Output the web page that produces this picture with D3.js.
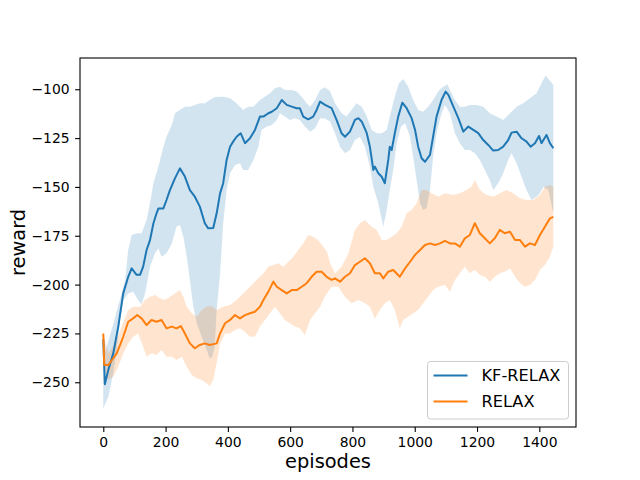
<!DOCTYPE html>
<html>
<head>
<meta charset="utf-8">
<script src="https://cdn.jsdelivr.net/npm/d3@7"></script>
<style>
  html, body { margin: 0; padding: 0; background: #fff; }
  svg { display: block; font-family: "DejaVu Sans", sans-serif; }
</style>
</head>
<body>
<svg width="640" height="480"></svg>
<script>
// KF-RELAX: mean reward and band, [episode, reward]
const kfMean = [[0,-228],[5,-251],[16,-243.7],[32,-235.2],[48,-221.5],[64,-204.5],[80,-196],[91,-191.7],[107,-195],[118,-195],[128,-190.8],[139,-182.3],[150,-177.2],[161,-168.6],[171,-163.5],[177,-161],[193,-161],[203,-156.7],[214,-151.6],[230,-145.6],[246,-140.5],[262,-144.7],[278,-151.6],[294,-155],[310,-160.1],[326,-168.6],[337,-171.2],[353,-171],[364,-163.5],[375,-153.3],[385,-148.1],[396,-136.2],[407,-129.4],[417,-126.8],[428,-124.3],[441,-122.5],[455,-127.6],[471,-125.1],[487,-120.8],[503,-114],[514,-114],[530,-112.3],[541,-111.5],[557,-109.7],[573,-105.5],[589,-108],[605,-108.9],[621,-109.7],[631,-109.7],[642,-114],[658,-115.4],[674,-114],[685,-110.6],[696,-106.3],[712,-108],[733,-109.7],[749,-115.7],[765,-122.5],[776,-124.3],[792,-121.7],[808,-115.7],[819,-114.8],[830,-116.6],[846,-122.5],[856,-129.4],[867,-141.3],[872,-139.6],[883,-143],[894,-144.8],[904,-148.1],[915,-136.2],[920,-129.4],[926,-131.1],[936,-122.5],[947,-114],[960,-106.9],[974,-109.7],[990,-114.8],[1001,-120.8],[1011,-129.4],[1022,-135.3],[1033,-137.1],[1049,-133.6],[1059,-124.3],[1070,-114],[1086,-105.5],[1099,-101.2],[1108,-102.9],[1124,-108.9],[1140,-114.8],[1156,-121.7],[1172,-119.1],[1188,-120.8],[1204,-122.5],[1220,-126],[1236,-128.5],[1252,-131.4],[1268,-131.1],[1284,-129.4],[1300,-126],[1311,-122.2],[1327,-121.7],[1343,-125.1],[1359,-126.8],[1372,-129.4],[1386,-127.6],[1399,-123.9],[1407,-127.6],[1423,-123.4],[1434,-127.6],[1445,-130.2]];
const kfHi = [[0,-226],[5,-235],[27,-223],[48,-211],[70,-197.6],[80,-182.3],[91,-174.6],[107,-173.7],[123,-173.7],[139,-166.9],[150,-158.4],[161,-148.1],[177,-139.6],[193,-129.4],[203,-124.3],[220,-118.3],[230,-112.3],[246,-110.6],[262,-108.9],[278,-108.9],[294,-108],[310,-107.2],[326,-107.2],[342,-105.5],[359,-104],[385,-103.8],[407,-104.6],[428,-107.2],[449,-110.6],[465,-108.9],[482,-108.9],[503,-105.5],[519,-103.8],[535,-102],[551,-99.5],[567,-98.7],[583,-100.4],[605,-100.4],[621,-101.2],[637,-103.8],[653,-107.2],[664,-108.9],[680,-105.5],[696,-100.4],[712,-99],[728,-101],[744,-107.2],[765,-112.3],[781,-114],[797,-110.6],[813,-107.2],[830,-108.9],[846,-114],[862,-120.8],[878,-122.5],[894,-122.5],[910,-120.8],[920,-114],[936,-103.8],[949,-96.9],[963,-94.8],[979,-98.7],[995,-105.5],[1011,-110.6],[1027,-111.5],[1043,-108.9],[1059,-105.5],[1075,-101.2],[1091,-98.7],[1105,-97.5],[1113,-100.4],[1129,-105.5],[1145,-108.9],[1161,-108.9],[1177,-108],[1199,-108],[1220,-108.9],[1241,-112.3],[1263,-114],[1284,-115.7],[1306,-112.3],[1327,-108.9],[1348,-107.2],[1370,-104.6],[1391,-102],[1407,-96.9],[1420,-93],[1434,-95.5],[1445,-98]];
const kfLo = [[0,-263.3],[16,-257.4],[32,-245.4],[43,-233.5],[54,-218.1],[64,-207.9],[80,-204.5],[96,-203.6],[112,-208],[123,-210],[134,-204.5],[150,-190.8],[166,-184],[177,-181.4],[187,-185.7],[203,-184],[220,-178.9],[235,-170.4],[246,-169.5],[257,-175.5],[268,-185.7],[278,-197.6],[289,-211.3],[300,-219.8],[316,-226.7],[332,-233.5],[342,-238],[350,-237],[358,-231.8],[364,-213],[375,-194.2],[385,-168.6],[396,-151.6],[407,-143],[423,-138.8],[439,-137.9],[449,-141.3],[465,-141.3],[482,-136.2],[498,-129.4],[508,-120.8],[525,-119.1],[541,-118.3],[557,-115.7],[567,-112.3],[583,-114],[599,-115.7],[615,-114.8],[631,-115.7],[647,-119.1],[664,-121.7],[680,-120],[696,-114.8],[712,-115],[728,-116.5],[744,-122.5],[760,-129.4],[776,-132.8],[792,-131.1],[808,-126],[824,-124.3],[840,-129.4],[856,-139.6],[867,-149.9],[883,-158.4],[899,-170.4],[910,-161.8],[920,-151.6],[931,-141.3],[942,-127.6],[956,-119.1],[969,-117.4],[985,-124.3],[995,-134.5],[1006,-146.4],[1017,-158.4],[1027,-161.8],[1038,-160.9],[1049,-151.6],[1059,-134.5],[1070,-122.5],[1086,-112.3],[1097,-108],[1113,-112.3],[1129,-122.5],[1145,-127.6],[1161,-131.1],[1177,-131.1],[1193,-132.8],[1209,-136.2],[1225,-141.3],[1241,-146.4],[1252,-151.6],[1268,-148.1],[1284,-143],[1300,-136.2],[1311,-132.8],[1327,-137.9],[1343,-144.8],[1359,-151.6],[1375,-156.7],[1391,-155],[1402,-153.3],[1413,-149.9],[1429,-151.6],[1445,-163.5]];

// RELAX
const rxMean = [[0,-225],[3,-241.2],[16,-241.2],[32,-237.7],[43,-235.2],[54,-230.9],[64,-226.7],[80,-219],[96,-217.3],[109,-215.6],[123,-217.3],[139,-220.7],[155,-218.1],[171,-219],[187,-218.1],[203,-222.4],[220,-221.5],[235,-222.4],[249,-221.2],[262,-225],[278,-230.1],[294,-232.6],[310,-230.9],[326,-230.1],[342,-230.9],[364,-230.1],[375,-225],[391,-219.8],[407,-218.1],[423,-215.6],[439,-217.3],[455,-215.6],[471,-214.7],[487,-213.9],[503,-211.3],[514,-207.9],[530,-203.6],[546,-198.5],[557,-201.1],[573,-202.8],[589,-204.5],[605,-202.8],[621,-202.8],[637,-201.1],[653,-199.3],[669,-196],[685,-193.4],[701,-193.4],[717,-196],[733,-197.6],[744,-196.8],[760,-198.5],[776,-196],[792,-194.2],[808,-190],[824,-188.3],[840,-186.5],[856,-189.1],[872,-194.2],[888,-194.2],[899,-196.8],[915,-193.4],[931,-192.5],[952,-196],[969,-191.7],[985,-188.3],[1001,-184.8],[1017,-182.3],[1033,-179.7],[1049,-178.9],[1065,-179.7],[1081,-178.9],[1097,-177.6],[1113,-178.9],[1129,-178.9],[1145,-180.6],[1161,-176.3],[1177,-174.6],[1193,-168.6],[1209,-173.7],[1225,-176.3],[1241,-178.9],[1257,-176.3],[1273,-172],[1289,-173.7],[1306,-172.9],[1322,-177.2],[1338,-177.2],[1354,-180.6],[1370,-178.9],[1386,-179.7],[1402,-174.6],[1418,-170.4],[1434,-166.1],[1445,-165.3]];
const rxHi = [[0,-225],[16,-235.2],[38,-230.1],[59,-221.5],[80,-213],[96,-211.3],[118,-211.3],[134,-207.9],[150,-206.2],[166,-205.3],[182,-207],[198,-207.9],[214,-206.2],[230,-204.5],[246,-202.8],[257,-206.2],[268,-211.3],[284,-214.7],[300,-216.4],[316,-213],[332,-211.3],[348,-211],[364,-213],[385,-211.3],[407,-210.4],[428,-207.9],[449,-204.5],[471,-201.1],[492,-197.6],[514,-194.2],[530,-190.8],[546,-190],[562,-189.1],[578,-190.8],[594,-188.3],[610,-185.7],[626,-182.3],[642,-178.9],[658,-174.6],[674,-175.5],[690,-177.2],[706,-180.6],[718,-183],[728,-189],[744,-194.2],[765,-190.8],[787,-184],[808,-172],[824,-168.6],[840,-166.9],[862,-170.4],[878,-172],[894,-177.2],[910,-177.2],[926,-175.5],[942,-173.7],[958,-170.4],[974,-163.5],[990,-161.8],[1006,-158.4],[1022,-151.6],[1038,-151.6],[1054,-153.3],[1075,-155],[1097,-153.3],[1124,-154.1],[1145,-153.3],[1166,-151.6],[1182,-149.9],[1193,-146.4],[1209,-151.6],[1231,-154.1],[1252,-155],[1273,-153.3],[1295,-151.6],[1316,-153.3],[1338,-155.8],[1359,-156.7],[1380,-156.7],[1402,-154.1],[1418,-149.9],[1434,-149],[1445,-149.9]];
const rxLo = [[0,-225],[8,-246],[16,-248.8],[32,-247.2],[48,-242],[64,-235.2],[80,-230.1],[96,-226.7],[112,-225],[128,-231.8],[139,-236.9],[155,-235.2],[171,-236.1],[187,-233.5],[203,-236.9],[220,-236.9],[235,-238.6],[252,-236.9],[268,-242],[284,-246.3],[300,-248],[316,-248.8],[332,-250.5],[342,-252],[353,-248.8],[364,-240.3],[375,-230.1],[391,-225],[407,-225],[423,-223.3],[439,-222.4],[455,-224.1],[471,-226.7],[487,-226.7],[503,-221.5],[519,-218.1],[535,-214.7],[551,-211.3],[567,-214.7],[583,-218.1],[599,-219.8],[615,-221.5],[631,-222.4],[647,-225.8],[664,-218.1],[680,-214.7],[696,-211.3],[712,-206],[733,-201.1],[754,-201.1],[776,-206.2],[797,-209.6],[819,-207.9],[840,-209.6],[856,-211.3],[872,-217.3],[888,-213],[904,-209.6],[920,-207.9],[936,-213],[952,-222.4],[963,-218.1],[979,-216.4],[995,-214.7],[1011,-213],[1027,-209.6],[1043,-206.2],[1059,-202.8],[1075,-201.1],[1097,-200.2],[1113,-203.6],[1129,-197.6],[1145,-194.2],[1161,-190.8],[1177,-194.2],[1193,-192.5],[1209,-195.1],[1225,-196],[1241,-198.5],[1257,-196],[1273,-194.2],[1289,-193.4],[1306,-191.7],[1322,-196],[1338,-199.3],[1354,-201.1],[1370,-200.2],[1386,-197.6],[1402,-192.5],[1418,-190],[1434,-185.7],[1445,-180.6]];

const xTicks = [0, 200, 400, 600, 800, 1000, 1200, 1400];
const yTicks = [-250, -225, -200, -175, -150, -125, -100];
const seriesNames = ['KF-RELAX', 'RELAX'];
const seriesColors = ['#1f77b4', '#ff7f0e'];

const margin = { top: 58, right: 64, bottom: 53, left: 80 };
const width = 640 - margin.left - margin.right;
const height = 480 - margin.top - margin.bottom;

const svg = d3.select('svg');
const g = svg.append('g')
  .attr('transform', 'translate(' + margin.left + ',' + margin.top + ')');

const x = d3.scaleLinear().domain([-74.8, 1517.8]).range([0, width]);
const y = d3.scaleLinear().domain([-272.9, -84.0]).range([height, 0]);

const line = d3.line().x(d => x(d[0])).y(d => y(d[1]));

// band = upper edge forward, lower edge back
function band(hi, lo) {
  return line(hi.concat(lo.slice().reverse())) + 'Z';
}

const plot = g.append('g').attr('clip-path', 'url(#clip)');
svg.append('clipPath').attr('id', 'clip')
  .append('rect').attr('width', width).attr('height', height);

const bands = [[kfHi, kfLo], [rxHi, rxLo]];
const means = [kfMean, rxMean];

bands.forEach(function (b, i) {
  plot.append('path')
    .attr('d', band(b[0], b[1]))
    .attr('fill', seriesColors[i])
    .attr('fill-opacity', 0.2)
    .attr('stroke', 'none');
});

means.forEach(function (m, i) {
  plot.append('path')
    .datum(m)
    .attr('d', line)
    .attr('fill', 'none')
    .attr('stroke', seriesColors[i])
    .attr('stroke-width', 2)
    .attr('stroke-linejoin', 'round');
});

// axes
const xAxis = g.append('g')
  .attr('transform', 'translate(0,' + height + ')')
  .call(d3.axisBottom(x).tickValues(xTicks).tickFormat(d3.format('d'))
    .tickSize(4.9).tickPadding(5.5).tickSizeOuter(0));
const yAxis = g.append('g')
  .call(d3.axisLeft(y).tickValues(yTicks).tickFormat(d3.format('d'))
    .tickSize(4.9).tickPadding(5.5).tickSizeOuter(0));

[xAxis, yAxis].forEach(function (a) {
  a.select('.domain').remove();
  a.selectAll('.tick line').attr('stroke', '#000').attr('stroke-width', 1.1);
  a.selectAll('.tick text')
    .attr('fill', '#000')
    .style('font-family', '"DejaVu Sans", sans-serif')
    .style('font-size', '13.9px');
});

g.append('rect')
  .attr('width', width)
  .attr('height', height)
  .attr('fill', 'none')
  .attr('stroke', '#000')
  .attr('stroke-width', 1.1);

// axis labels
svg.append('text')
  .attr('x', margin.left + width / 2)
  .attr('y', 468)
  .attr('text-anchor', 'middle')
  .style('font-size', '19.4px')
  .text('episodes');

svg.append('text')
  .attr('transform', 'translate(25,' + (margin.top + height / 2) + ') rotate(-90)')
  .attr('text-anchor', 'middle')
  .style('font-size', '19.4px')
  .text('reward');

// legend
const legend = svg.append('g').attr('transform', 'translate(427.5,361.5)');
legend.append('rect')
  .attr('width', 141)
  .attr('height', 57.5)
  .attr('rx', 3)
  .attr('fill', '#fff')
  .attr('fill-opacity', 0.8)
  .attr('stroke', '#cccccc')
  .attr('stroke-width', 1);

const item = legend.selectAll('.item')
  .data(seriesNames)
  .enter().append('g')
  .attr('class', 'item')
  .attr('transform', (d, i) => 'translate(0,' + (14 + i * 26) + ')');

item.append('line')
  .attr('x1', 6).attr('x2', 40)
  .attr('stroke', (d, i) => seriesColors[i])
  .attr('stroke-width', 2);

item.append('text')
  .attr('x', 54)
  .attr('dy', '0.36em')
  .style('font-size', '16.2px')
  .text(d => d);
</script>
</body>
</html>
